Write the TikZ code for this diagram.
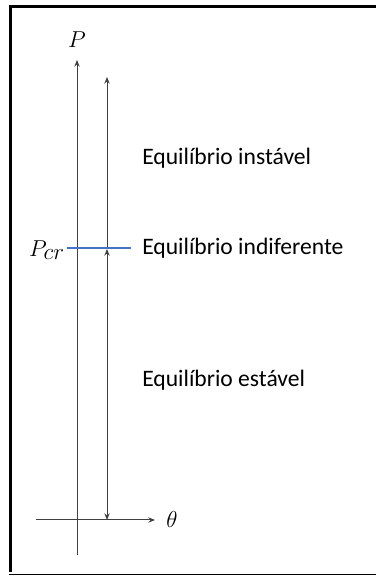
\documentclass[tikz,border=0pt]{standalone}
\usepackage{fontspec}
\setmainfont{Carlito}
\usetikzlibrary{arrows.meta,positioning}
\definecolor{axiscol}{RGB}{64,64,64}
\definecolor{critcol}{RGB}{68,114,196}
\definecolor{framecol}{RGB}{0,0,0}
\definecolor{labelcol}{RGB}{0,0,0}

\begin{document}
\begin{tikzpicture}[
  x=0.75pt, y=0.75pt,
  flow/.style={draw=axiscol, line width=0.75pt, -{Stealth[length=5pt,width=4pt]}},
  both/.style={draw=axiscol, line width=0.75pt, {Stealth[length=5pt,width=4pt]}-{Stealth[length=5pt,width=4pt]}},
  crit/.style={draw=critcol, line width=0.9pt},
  txt/.style={font=\fontsize{17.7}{20}\selectfont, text=labelcol, anchor=west, inner sep=0pt},
  mlab/.style={font=\fontsize{17.7}{20}\selectfont, text=labelcol, inner sep=0pt}
]
\useasboundingbox (0,0) rectangle (377,576);

%% ===================== Frame =====================================
\fill[framecol] (9,4) rectangle (12,571);
\fill[framecol] (9,568) rectangle (376,571);
\draw[framecol, line width=0.75pt] (9,1) -- (376,1);

%% ===================== Axes ======================================
\coordinate (pbot) at (77,21);
\coordinate (ptop) at (77,516);
\coordinate (tleft) at (36,56);
\coordinate (tright) at (155,56);
\draw[flow] (pbot) -- (ptop);
\draw[flow] (tleft) -- (tright);
\node[mlab] (plab) at (77,536) {$P$};
\node[mlab, anchor=west] (tlab) at (166,56) {$\theta$};

%% ===================== Load path =================================
\coordinate (lbot) at (107,56);
\coordinate (lcr)  at (107,327);
\coordinate (ltop) at (107,499);
\draw[both] (lbot) -- (lcr);
\draw[flow] (lcr) -- (ltop);

%% ===================== Critical load =============================
\coordinate (cleft)  at (67,328);
\coordinate (cright) at (131,328);
\draw[crit] (cleft) -- (cright);
\node[mlab] (pcr) at (47,326) {$P_{\textstyle cr}$};

%% ===================== Equilibrium labels ========================
\node[txt] (inst) at (142,418) {Equilíbrio instável};
\node[txt] (indf) at (142,328) {Equilíbrio indiferente};
\node[txt] (estv) at (142,196) {Equilíbrio estável};

\end{tikzpicture}
\end{document}
